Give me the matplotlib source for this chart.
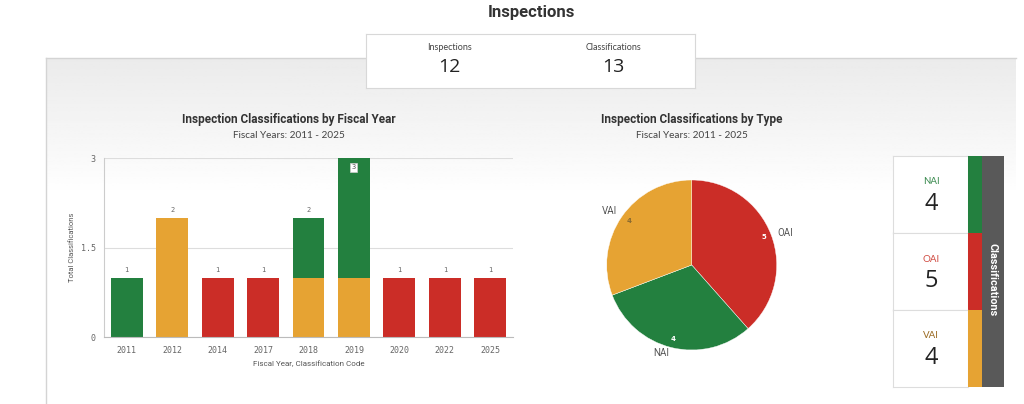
import numpy as np
import matplotlib
matplotlib.use('Agg')
import matplotlib.pyplot as plt

# data
years = ['2011', '2012', '2014', '2017', '2018', '2019', '2020', '2022', '2025']
oai = [0, 0, 1, 1, 0, 0, 1, 1, 1]
vai = [0, 2, 0, 0, 1, 1, 0, 0, 0]
nai = [1, 0, 0, 0, 1, 2, 0, 0, 0]
pie_labels = ['OAI', 'NAI', 'VAI']
pie_values = [5, 4, 4]
kpi_labels = ['NAI', 'OAI', 'VAI']
kpi_values = [4, 5, 4]
n_inspections = 12
n_classifications = 13

GREEN = '#23803f'
ORANGE = '#e6a333'
RED = '#cb2d27'
colors = {'NAI': GREEN, 'OAI': RED, 'VAI': ORANGE}
label_colors = {'NAI': '#3a8a4f', 'OAI': '#d04a40', 'VAI': '#9a6a20'}

W, H = 1024, 404
fig = plt.figure(figsize=(W / 100, H / 100), dpi=100)
fig.patch.set_facecolor('white')


def rect(x0, y0, x1, y1):
    return [x0 / W, 1 - y1 / H, (x1 - x0) / W, (y1 - y0) / H]


def px(x, y):
    return x / W, 1 - y / H


# grey panel with gradient
bg = fig.add_axes(rect(46, 58, 1016, 404), zorder=0)
g = np.linspace(0, 1, 200)
grad = np.clip(0.92 + 0.08 * g / 0.4, 0.92, 1.0)[:, None] * np.ones((1, 2))
bg.imshow(grad, cmap='gray', vmin=0, vmax=1, aspect='auto', extent=[0, 1, 0, 1],
          origin='upper')
bg.set_xlim(0, 1)
bg.set_ylim(0, 1)
bg.set_xticks([])
bg.set_yticks([])
for s in ['right', 'bottom']:
    bg.spines[s].set_visible(False)
for s in ['left', 'top']:
    bg.spines[s].set_color('#d4d4d4')
    bg.spines[s].set_linewidth(1)

# page title
fig.text(*px(531, 12), 'Inspections', ha='center', va='center', fontsize=12,
         fontweight='bold', family='Roboto', color='#333333')

# top KPI box
kb = fig.add_axes(rect(366, 34, 695, 88), zorder=2)
kb.set_xticks([])
kb.set_yticks([])
kb.set_facecolor('white')
for s in kb.spines.values():
    s.set_color('#d8d8d8')
fig.text(*px(449, 48), 'Inspections', ha='center', va='center', fontsize=6.5,
         family='Lato', color='#444444', zorder=3)
fig.text(*px(449, 67), str(n_inspections), ha='center', va='center', fontsize=14,
         family='Open Sans', color='#222222', zorder=3)
fig.text(*px(613, 48), 'Classifications', ha='center', va='center', fontsize=6.5,
         family='Lato', color='#444444', zorder=3)
fig.text(*px(613, 67), str(n_classifications), ha='center', va='center', fontsize=14,
         family='Open Sans', color='#222222', zorder=3)

# bar chart
fig.text(*px(289, 120), 'Inspection Classifications by Fiscal Year', ha='center',
         va='center', fontsize=8.5, fontweight='bold', family='Roboto', color='#333333')
fig.text(*px(289, 135), 'Fiscal Years: 2011 - 2025', ha='center', va='center',
         fontsize=7.2, family='Lato', color='#444444')

ax = fig.add_axes(rect(104, 158.3, 513, 337.3), zorder=2)
ax.patch.set_alpha(0)
x = np.arange(len(years))
bw = 0.7
oai_a = np.array(oai)
vai_a = np.array(vai)
nai_a = np.array(nai)
ax.bar(x, oai_a, bw, color=RED, zorder=2)
ax.bar(x, vai_a, bw, bottom=oai_a, color=ORANGE, zorder=2)
ax.bar(x, nai_a, bw, bottom=oai_a + vai_a, color=GREEN, zorder=2)
totals = oai_a + vai_a + nai_a
for xi, t in zip(x, totals):
    if t >= 3:
        ax.text(xi, t - 0.15, str(t), ha='center', va='center', fontsize=5,
                family='DejaVu Sans Mono', color='#555555', zorder=4,
                bbox=dict(boxstyle='square,pad=0.2', fc='white', ec='#cccccc', lw=0.5))
    else:
        ax.text(xi, t + 0.13, str(t), ha='center', va='center', fontsize=5,
                family='DejaVu Sans Mono', color='#666666', zorder=4)
ax.set_xlim(-0.5, len(years) - 0.5)
ax.set_ylim(0, 3)
ax.set_yticks([0, 1.5, 3])
ax.set_yticklabels(['0', '1.5', '3'])
ax.set_xticks(x)
ax.set_xticklabels(years)
ax.tick_params(length=0, labelsize=6, colors='#666666', pad=6)
for lab in ax.get_xticklabels() + ax.get_yticklabels():
    lab.set_family('DejaVu Sans Mono')
ax.grid(axis='y', color='#dddddd', lw=0.8, zorder=0)
for s in ['top', 'right']:
    ax.spines[s].set_visible(False)
ax.spines['left'].set_color('#cccccc')
ax.spines['bottom'].set_color('#bbbbbb')
ax.set_ylabel('Total Classifications', fontsize=5.5, family='Roboto', color='#555555',
              labelpad=4)
ax.set_xlabel('Fiscal Year, Classification Code', fontsize=5.8, family='Roboto',
              color='#555555', labelpad=4)

# pie chart
fig.text(*px(692, 120), 'Inspection Classifications by Type', ha='center',
         va='center', fontsize=8.5, fontweight='bold', family='Roboto', color='#333333')
fig.text(*px(692, 135), 'Fiscal Years: 2011 - 2025', ha='center', va='center',
         fontsize=7.2, family='Lato', color='#444444')

pax = fig.add_axes(rect(606.7, 180, 776.7, 350), zorder=2)
pax.pie(pie_values, colors=[colors[l] for l in pie_labels], startangle=90,
        counterclock=False, radius=1.0,
        wedgeprops=dict(edgecolor='white', linewidth=0.3))
pax.set_xlim(-1, 1)
pax.set_ylim(-1, 1)
pax.set_aspect('equal')
# label placement (angle in degrees, radius) for name and value
name_pos = {'OAI': (19, 1.17), 'NAI': (251, 1.10), 'VAI': (147, 1.16)}
val_pos = {'OAI': (21, 0.91), 'NAI': (256, 0.90), 'VAI': (145, 0.90)}
for lab, v in zip(pie_labels, pie_values):
    a, r = val_pos[lab]
    pax.text(r * np.cos(np.deg2rad(a)), r * np.sin(np.deg2rad(a)), str(v),
             ha='center', va='center', fontsize=5,
             color='white' if lab != 'VAI' else '#8a6a30', fontweight='bold')
    a, r = name_pos[lab]
    pax.text(r * np.cos(np.deg2rad(a)), r * np.sin(np.deg2rad(a)), lab,
             ha='center', va='center', fontsize=7, color='#555555', family='Roboto')

# right KPI panel
rows = [(156, 233), (233, 310), (310, 387)]
for lab, val, (y0, y1) in zip(kpi_labels, kpi_values, rows):
    cell = fig.add_axes(rect(893, y0, 968, y1), zorder=2)
    cell.set_xticks([])
    cell.set_yticks([])
    cell.set_facecolor('white')
    for s in cell.spines.values():
        s.set_color('#dddddd')
        s.set_linewidth(0.8)
    strip = fig.add_axes(rect(968, y0, 981.5, y1), zorder=2)
    strip.set_facecolor(colors[lab])
    strip.set_xticks([])
    strip.set_yticks([])
    for s in strip.spines.values():
        s.set_visible(False)
    fig.text(*px(931, y0 + 26), lab, ha='center', va='center', fontsize=7,
             family='Lato', color=label_colors[lab], zorder=5)
    fig.text(*px(931, y0 + 48), str(val), ha='center', va='center', fontsize=17,
             family='Open Sans', color='#222222', zorder=5)

side = fig.add_axes(rect(981.5, 156, 1004, 387), zorder=2)
side.set_facecolor('#595959')
side.set_xticks([])
side.set_yticks([])
for s in side.spines.values():
    s.set_visible(False)
fig.text(*px(993, 280), 'Classifications', ha='center', va='center', fontsize=7.8,
         fontweight='bold', family='Roboto', color='white', rotation=270, zorder=5)

fig.savefig('out.png', dpi=100)
